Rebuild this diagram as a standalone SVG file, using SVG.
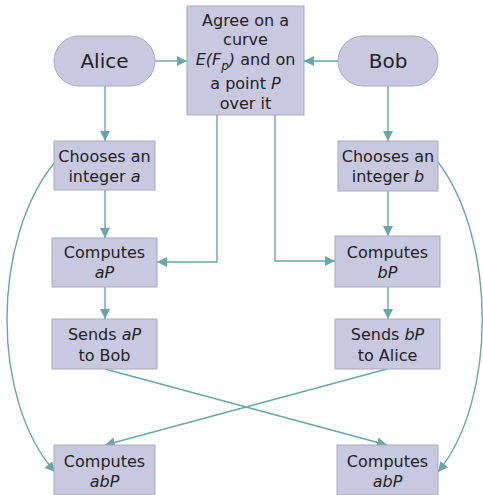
<svg xmlns="http://www.w3.org/2000/svg" width="483" height="495" viewBox="0 0 483 495">
<defs>
<marker id="ah" viewBox="0 0 10 10" refX="10" refY="5" markerWidth="10" markerHeight="10" markerUnits="userSpaceOnUse" orient="auto">
<path d="M0,0 L10,5 L0,10 Z" fill="#6aa6a6"/>
</marker>
<style>
.n{fill:#c8c9e1;stroke:#a9a9bb;stroke-width:1}
.t{font-family:"DejaVu Sans",Verdana,sans-serif;font-size:16px;fill:#222;text-anchor:middle}
.big{font-size:20px}
.c{fill:none;stroke:#6aa6a6;stroke-width:1.4;marker-end:url(#ah)}
</style>
</defs>
<rect width="483" height="495" fill="#fff"/>
<g id="connectors">
<path class="c" d="M155,61 H187"/>
<path class="c" d="M338,61 H304"/>
<path class="c" d="M105,86 V141"/>
<path class="c" d="M388,86 V141"/>
<path class="c" d="M105,190 V238"/>
<path class="c" d="M388,191 V236"/>
<path class="c" d="M217,115 V262 H157"/>
<path class="c" d="M275,115 V261 H335"/>
<path class="c" d="M105,287 V319"/>
<path class="c" d="M388,287 V319"/>
<path class="c" d="M105,369 L387,445"/>
<path class="c" d="M387,369 L105,445"/>
<path class="c" d="M55,162 C-9,240 -9,400 55,472"/>
<path class="c" d="M438,162 C497,240 497,400 438,472"/>
</g>
<g id="alice">
<rect class="n" x="54" y="36" width="101" height="50" rx="25"/>
<text class="t big" x="104.5" y="68">Alice</text>
</g>
<g id="bob">
<rect class="n" x="338" y="36" width="100" height="50" rx="25"/>
<text class="t big" x="388" y="68">Bob</text>
</g>
<g id="agree">
<rect class="n" x="187" y="6" width="117" height="109"/>
<text class="t" x="245.5" y="26">Agree on a</text>
<text class="t" x="245.5" y="45">curve</text>
<text class="t" x="245.5" y="65"><tspan font-style="italic">E(F</tspan><tspan font-style="italic" font-size="12" dy="5">p</tspan><tspan font-style="italic" dy="-5">)</tspan> and on</text>
<text class="t" x="245.5" y="89">a point <tspan font-style="italic">P</tspan></text>
<text class="t" x="245.5" y="109">over it</text>
</g>
<g id="choose-a">
<rect class="n" x="54" y="141" width="101" height="49"/>
<text class="t" x="104.5" y="162">Chooses an</text>
<text class="t" x="104.5" y="182">integer <tspan font-style="italic">a</tspan></text>
</g>
<g id="choose-b">
<rect class="n" x="338" y="141" width="100" height="50"/>
<text class="t" x="388" y="162">Chooses an</text>
<text class="t" x="388" y="182">integer <tspan font-style="italic">b</tspan></text>
</g>
<g id="compute-a">
<rect class="n" x="52" y="238" width="105" height="49"/>
<text class="t" x="104.5" y="258">Computes</text>
<text class="t" x="104.5" y="278" font-style="italic">aP</text>
</g>
<g id="compute-b">
<rect class="n" x="335" y="236" width="105" height="51"/>
<text class="t" x="387.5" y="258">Computes</text>
<text class="t" x="387.5" y="278" font-style="italic">bP</text>
</g>
<g id="send-a">
<rect class="n" x="52" y="319" width="105" height="50"/>
<text class="t" x="104.5" y="340">Sends <tspan font-style="italic">aP</tspan></text>
<text class="t" x="104.5" y="361">to Bob</text>
</g>
<g id="send-b">
<rect class="n" x="335" y="319" width="105" height="50"/>
<text class="t" x="387.5" y="340">Sends <tspan font-style="italic">bP</tspan></text>
<text class="t" x="387.5" y="361">to Alice</text>
</g>
<g id="abp-a">
<rect class="n" x="54" y="445" width="101" height="50"/>
<text class="t" x="104.5" y="467">Computes</text>
<text class="t" x="104.5" y="487" font-style="italic">abP</text>
</g>
<g id="abp-b">
<rect class="n" x="337" y="445" width="101" height="50"/>
<text class="t" x="387.5" y="467">Computes</text>
<text class="t" x="387.5" y="487" font-style="italic">abP</text>
</g>
</svg>
